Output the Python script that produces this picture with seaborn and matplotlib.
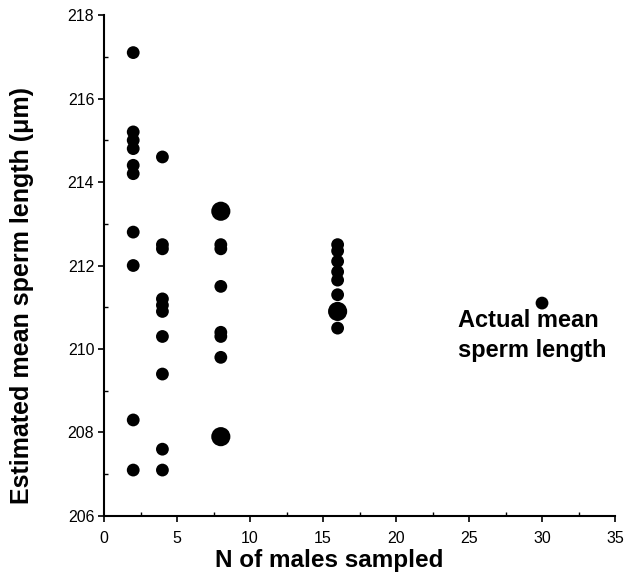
import matplotlib
matplotlib.use("Agg")
import matplotlib.pyplot as plt
import seaborn as sns
import pandas as pd
from matplotlib.ticker import MultipleLocator

# Data
n2 = [217.1, 215.2, 215.0, 214.8, 214.4, 214.2, 212.8, 212.0, 208.3, 207.1]
n4 = [214.6, 212.5, 212.4, 211.2, 211.05, 210.9, 210.3, 209.4, 207.6, 207.1]
n8 = [213.3, 212.5, 212.4, 211.5, 210.4, 210.3, 209.8, 207.9]
n8_count = [2, 1, 1, 1, 1, 1, 1, 2]
n16 = [212.5, 212.35, 212.1, 211.85, 211.65, 211.3, 210.9, 210.5]
n16_count = [1, 1, 1, 1, 1, 1, 2, 1]
actual_n = [30]
actual_mean = [211.1]
annotation_lines = ["Actual mean", "sperm length"]

rows = []
for v in n2:
    rows.append((2, v, 1))
for v in n4:
    rows.append((4, v, 1))
for v, c in zip(n8, n8_count):
    rows.append((8, v, c))
for v, c in zip(n16, n16_count):
    rows.append((16, v, c))
for x, v in zip(actual_n, actual_mean):
    rows.append((x, v, 1))
df = pd.DataFrame(rows, columns=["n", "mean", "count"])

sns.set_style("ticks")
plt.rcParams['font.family'] = ['Liberation Sans', 'DejaVu Sans']
plt.rcParams.update({"text.color": "black", "axes.labelcolor": "black",
                     "xtick.color": "black", "ytick.color": "black"})

fig = plt.figure(figsize=(6.24, 5.78), dpi=100)
ax = fig.add_axes([0.1667, 0.1073, 0.8189, 0.8667])

sns.scatterplot(data=df, x="n", y="mean", size="count", sizes={1: 85, 2: 190},
                color="black", edgecolor="black", linewidth=0, legend=False, ax=ax)

ax.set_xlim(0, 35)
ax.set_ylim(206, 218)
ax.xaxis.set_major_locator(MultipleLocator(5))
ax.xaxis.set_minor_locator(MultipleLocator(2.5))
ax.yaxis.set_major_locator(MultipleLocator(2))
ax.yaxis.set_minor_locator(MultipleLocator(1))
ax.tick_params(which="major", direction="out", length=4, width=1.2, labelsize=11.5, colors="black")
ax.tick_params(axis="x", which="major", pad=7)
ax.tick_params(axis="y", which="major", pad=3)
ax.tick_params(which="minor", direction="in", length=3, width=1, colors="black")
sns.despine(ax=ax)
for s in ("left", "bottom"):
    ax.spines[s].set_linewidth(1.5)
    ax.spines[s].set_color("black")

ax.set_xlabel("N of males sampled", fontsize=17.5, fontweight="bold")
ax.set_ylabel("Estimated mean sperm length (\u03bcm)", fontsize=18, fontweight="bold")
ax.xaxis.set_label_coords(0.44, -0.066)
ax.yaxis.set_label_coords(-0.137, 0.441)

ax.text(24.25, 210.53, annotation_lines[0], fontsize=17, fontweight="bold",
        ha="left", va="baseline")
ax.text(24.25, 209.82, annotation_lines[1], fontsize=17, fontweight="bold",
        ha="left", va="baseline")

fig.savefig("out.png", dpi=100)
